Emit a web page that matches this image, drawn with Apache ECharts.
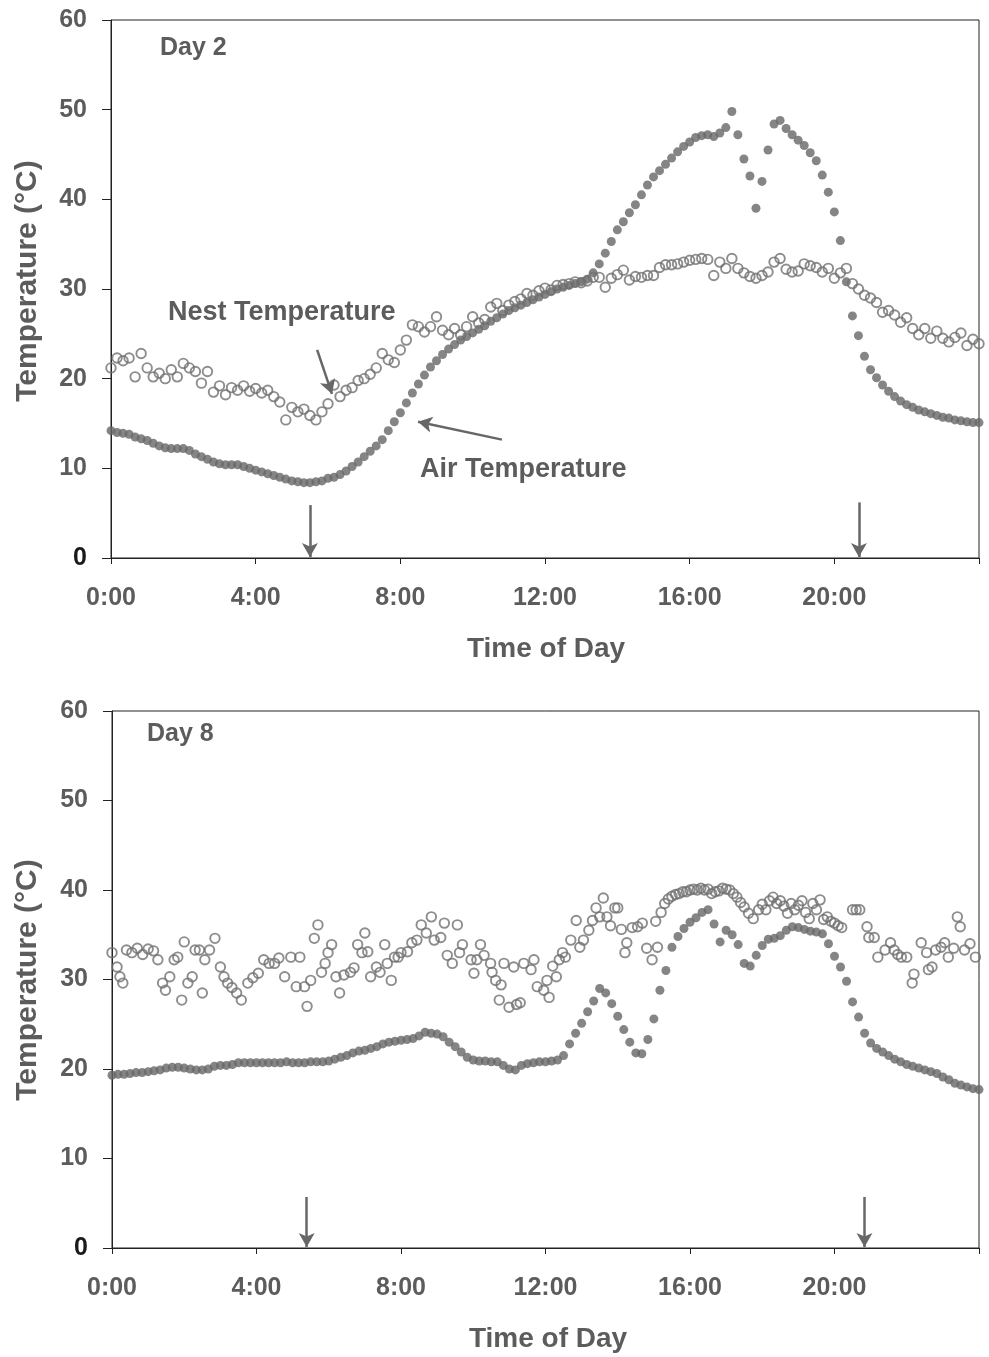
<!DOCTYPE html>
<html>
<head>
<meta charset="utf-8">
<title>Nest and air temperature, Day 2 and Day 8</title>
<script src="https://cdn.jsdelivr.net/npm/echarts@6/dist/echarts.min.js"></script>
<style>
  html, body { margin: 0; padding: 0; background: #fff; }
  #chart { width: 989px; height: 1357px; }
</style>
</head>
<body>
<div id="chart"></div>
<script>
// readings every 10 minutes from 0:00 to 24:00
const STEP_H = 10 / 60;

const airDay2 = [
  14.2, 14.0, 13.9, 13.8, 13.5, 13.3,
  13.1, 12.8, 12.5, 12.3, 12.2, 12.2,
  12.2, 12.0, 11.6, 11.3, 11.0, 10.7,
  10.5, 10.4, 10.4, 10.4, 10.2, 10.0,
  9.8, 9.6, 9.4, 9.2, 9.0, 8.8,
  8.6, 8.5, 8.4, 8.4, 8.5, 8.6,
  8.9, 9.0, 9.3, 9.7, 10.2, 10.7,
  11.3, 11.9, 12.5, 13.2, 14.2, 15.2,
  16.2, 17.3, 18.4, 19.4, 20.4, 21.3,
  22.0, 22.7, 23.3, 23.8, 24.3, 24.7,
  25.1, 25.5, 25.9, 26.4, 26.8, 27.2,
  27.6, 27.9, 28.2, 28.5, 28.8, 29.1,
  29.4, 29.7, 30.0, 30.2, 30.4, 30.6,
  30.8, 31.1, 31.8, 32.8, 34.0, 35.3,
  36.6, 37.5, 38.5, 39.4, 40.5, 41.6,
  42.5, 43.2, 43.9, 44.6, 45.3, 45.9,
  46.4, 46.9, 47.1, 47.2, 47.0, 47.4,
  48.0, 49.8, 47.2, 44.5, 42.6, 39.0,
  42.0, 45.5, 48.4, 48.8, 47.9, 47.2,
  46.6, 46.0, 45.2, 44.3, 42.7, 40.8,
  38.6, 35.4, 30.8, 27.0, 24.8, 22.5,
  21.0, 20.1, 19.3, 18.6, 18.0, 17.5,
  17.1, 16.8, 16.5, 16.3, 16.1, 15.9,
  15.7, 15.6, 15.4, 15.3, 15.2, 15.1,
  15.1
];

const nestDay2 = [
  21.2, 22.3, 22.0, 22.3, 20.2, 22.8,
  21.2, 20.2, 20.6, 20.0, 21.0, 20.2,
  21.7, 21.2, 20.8, 19.5, 20.8, 18.5,
  19.2, 18.2, 19.0, 18.7, 19.2, 18.6,
  18.9, 18.4, 18.7, 18.0, 17.4, 15.4,
  16.8, 16.3, 16.6, 15.9, 15.4, 16.3,
  17.2, 19.3, 18.0, 18.7, 19.0, 19.8,
  20.0, 20.5, 21.2, 22.8, 22.1, 21.8,
  23.2, 24.3, 26.0, 25.8, 25.2, 25.8,
  26.9, 25.4, 24.9, 25.6, 24.9, 25.8,
  26.9, 26.2, 26.6, 28.0, 28.4, 27.6,
  28.2, 28.6, 28.9, 29.5, 29.3, 29.8,
  30.1, 29.9, 30.4, 30.5, 30.6, 30.8,
  30.7, 30.9, 31.3, 31.3, 30.2, 31.2,
  31.6, 32.1, 31.0, 31.4, 31.3, 31.5,
  31.5, 32.4, 32.7, 32.7, 32.8, 33.0,
  33.2, 33.3, 33.4, 33.3, 31.5, 33.0,
  32.3, 33.4, 32.3, 31.8, 31.4, 31.2,
  31.5, 31.9, 33.0, 33.4, 32.2, 31.9,
  32.0, 32.8, 32.6, 32.4, 31.9, 32.3,
  31.2, 31.8, 32.3, 30.6, 30.0, 29.3,
  29.0, 28.5, 27.4, 27.6, 27.1, 26.3,
  26.8, 25.6, 24.9, 25.6, 24.5, 25.3,
  24.5, 24.1, 24.6, 25.1, 23.7, 24.4,
  23.9
];

const airDay8 = [
  19.3, 19.4, 19.4, 19.5, 19.6, 19.6,
  19.7, 19.8, 19.9, 20.1, 20.2, 20.2,
  20.1, 20.0, 19.9, 19.9, 20.0, 20.3,
  20.4, 20.4, 20.5, 20.7, 20.7, 20.7,
  20.7, 20.7, 20.7, 20.7, 20.7, 20.8,
  20.7, 20.7, 20.7, 20.8, 20.8, 20.8,
  20.9, 21.1, 21.3, 21.5, 21.8, 22.0,
  22.1, 22.3, 22.5, 22.8, 23.0, 23.1,
  23.2, 23.3, 23.4, 23.7, 24.1, 24.0,
  23.9, 23.6, 23.0, 22.5, 21.9, 21.3,
  21.0, 20.9, 20.9, 20.8, 20.8, 20.4,
  20.0, 19.9, 20.4, 20.6, 20.7, 20.8,
  20.8, 20.9, 21.0, 21.5, 22.8, 24.0,
  25.1, 26.4, 27.6, 29.0, 28.5, 27.3,
  25.9, 24.4, 23.0, 21.8, 21.7, 23.3,
  25.6, 28.8, 31.0, 33.6, 34.8, 35.7,
  36.4, 36.9, 37.5, 37.8, 36.2, 34.2,
  35.5, 35.0, 33.9, 31.8, 31.5, 32.7,
  33.8, 34.5, 34.6, 34.9, 35.5, 35.9,
  35.8, 35.6, 35.4, 35.3, 35.1, 34.0,
  32.6, 31.4, 29.8, 27.5, 25.8, 24.0,
  22.9, 22.3, 21.9, 21.5, 21.1, 20.8,
  20.5, 20.3, 20.1, 19.9, 19.7, 19.5,
  19.1, 18.8, 18.4, 18.2, 18.0, 17.8,
  17.7
];

// day 8 nest readings are irregular, so they keep their own times (hours)
const nestTimeDay8 = [
  0.00, 0.14, 0.22, 0.30, 0.40, 0.55, 0.70, 0.85, 1.00, 1.15, 1.27, 1.40, 1.48, 1.60, 1.72, 1.82,
  1.93, 2.00, 2.10, 2.22, 2.30, 2.42, 2.50, 2.57, 2.70, 2.85, 3.00, 3.10, 3.20, 3.32, 3.45, 3.58,
  3.76, 3.90, 4.05, 4.20, 4.35, 4.50, 4.62, 4.78, 4.95, 5.10, 5.20, 5.33, 5.40, 5.50, 5.60, 5.70,
  5.80, 5.90, 5.98, 6.08, 6.20, 6.30, 6.42, 6.60, 6.70, 6.80, 6.92, 7.00, 7.08, 7.16, 7.32, 7.42,
  7.55, 7.62, 7.73, 7.82, 7.92, 8.00, 8.18, 8.30, 8.44, 8.56, 8.70, 8.84, 8.92, 9.10, 9.20, 9.28,
  9.42, 9.56, 9.62, 9.70, 9.94, 10.02, 10.10, 10.20, 10.30, 10.48, 10.52, 10.62, 10.72, 10.77, 10.85, 10.99,
  11.12, 11.20, 11.30, 11.40, 11.60, 11.68, 11.77, 11.95, 12.04, 12.10, 12.20, 12.30, 12.38, 12.47, 12.55, 12.70,
  12.85, 12.95, 13.05, 13.20, 13.30, 13.40, 13.50, 13.60, 13.70, 13.80, 13.92, 14.00, 14.10, 14.20, 14.25, 14.40,
  14.55, 14.68, 14.80, 14.95, 15.05, 15.10, 15.20, 15.30, 15.40, 15.50, 15.60, 15.70, 15.80, 15.90, 16.00, 16.10,
  16.20, 16.30, 16.40, 16.50, 16.60, 16.70, 16.80, 16.90, 17.00, 17.10, 17.20, 17.30, 17.40, 17.50, 17.62, 17.75,
  17.90, 18.00, 18.10, 18.20, 18.30, 18.40, 18.50, 18.60, 18.70, 18.80, 18.90, 19.00, 19.10, 19.20, 19.30, 19.40,
  19.50, 19.60, 19.70, 19.80, 19.90, 20.00, 20.10, 20.20, 20.50, 20.60, 20.70, 20.90, 20.95, 21.10, 21.20, 21.40,
  21.55, 21.65, 21.75, 21.85, 22.00, 22.15, 22.20, 22.40, 22.55, 22.60, 22.70, 22.80, 22.95, 23.05, 23.15, 23.30,
  23.40, 23.48, 23.60, 23.75, 23.90
];
const nestTempDay8 = [
  33.0, 31.4, 30.3, 29.6, 33.3, 33.0, 33.5, 32.8, 33.4, 33.2, 32.2, 29.6, 28.8, 30.3, 32.2, 32.5,
  27.7, 34.2, 29.6, 30.3, 33.3, 33.3, 28.5, 32.2, 33.3, 34.6, 31.4, 30.3, 29.6, 29.1, 28.5, 27.7,
  29.6, 30.2, 30.7, 32.2, 31.8, 31.8, 32.4, 30.3, 32.5, 29.2, 32.5, 29.2, 27.0, 29.9, 34.6, 36.1,
  30.8, 31.8, 33.0, 33.9, 30.3, 28.5, 30.5, 30.8, 31.3, 33.9, 33.0, 35.2, 33.1, 30.3, 31.4, 30.8,
  33.9, 31.8, 29.9, 32.5, 32.5, 33.0, 33.1, 34.1, 34.4, 36.1, 35.2, 37.0, 34.4, 34.7, 36.3, 32.7,
  31.8, 36.1, 33.0, 33.9, 32.2, 30.7, 32.2, 33.9, 32.7, 31.8, 30.8, 29.9, 27.7, 29.4, 31.8, 26.9,
  31.4, 27.2, 27.4, 31.8, 31.1, 32.2, 29.2, 28.8, 29.9, 28.0, 31.5, 30.3, 32.2, 33.0, 32.5, 34.4,
  36.6, 33.6, 34.4, 35.5, 36.6, 38.0, 37.0, 39.1, 37.0, 36.0, 38.0, 38.0, 35.6, 33.0, 34.1, 35.8,
  35.9, 36.3, 33.5, 32.2, 36.5, 33.6, 37.5, 38.5, 39.0, 39.3, 39.5, 39.6, 39.8, 39.8, 40.0, 40.1,
  40.0, 40.2, 40.0, 40.1, 39.6, 39.8, 39.9, 40.2, 40.1, 40.0, 39.6, 39.2, 38.6, 38.1, 37.4, 36.8,
  37.8, 38.4, 37.8, 38.8, 39.2, 38.5, 38.8, 38.2, 37.4, 38.5, 37.8, 38.3, 38.8, 37.5, 36.8, 38.5,
  37.8, 38.9, 36.7, 37.0, 36.5, 36.3, 36.0, 35.8, 37.8, 37.8, 37.8, 35.9, 34.7, 34.7, 32.5, 33.3,
  34.1, 33.3, 32.8, 32.5, 32.5, 29.6, 30.6, 34.1, 33.0, 31.1, 31.4, 33.3, 33.6, 34.1, 32.5, 33.5,
  37.0, 35.9, 33.3, 34.0, 32.5
];

const hourTicks = [0, 4, 8, 12, 16, 20];

// annotation arrows: [x1, y1, x2, y2] in hours / degrees, head at the second point
const arrowsDay2 = [
  [5.70, 23.2, 6.11, 18.3],
  [10.81, 13.2, 8.49, 15.2],
  [5.50, 5.9, 5.50, 0.1],
  [20.68, 6.2, 20.68, 0.1]
];
const arrowsDay8 = [
  [5.39, 5.7, 5.39, 0.1],
  [20.83, 5.7, 20.83, 0.1]
];

const FONT = '"Liberation Sans", Arial, sans-serif';
const TEXT = '#5c5c5c';
const MARK = '#676767';

const onGrid = (vals) => vals.map((v, i) => [i * STEP_H, v]);

const makeX = (gridIndex) => ({
  type: 'value',
  gridIndex: gridIndex,
  min: 0,
  max: 24,
  interval: 4,
  axisLine: { lineStyle: { color: '#222', width: 1 } },
  axisTick: { length: 6, lineStyle: { color: '#222' } },
  splitLine: { show: false },
  axisLabel: {
    margin: 28,
    fontSize: 25,
    fontWeight: 'bold',
    fontFamily: FONT,
    color: TEXT,
    formatter: (v) => (hourTicks.indexOf(v) >= 0 ? v + ':00' : '')
  }
});

const makeY = (gridIndex) => ({
  type: 'value',
  gridIndex: gridIndex,
  min: 0,
  max: 60,
  interval: 10,
  axisLine: { show: true, lineStyle: { color: '#222', width: 1 } },
  axisTick: { show: true, length: 9, lineStyle: { color: '#222' } },
  splitLine: { show: false },
  axisLabel: {
    margin: 24,
    fontSize: 25,
    fontWeight: 'bold',
    fontFamily: FONT,
    color: (v) => (Number(v) === 0 ? '#1a1a1a' : TEXT)
  }
});

const arrowLines = (list) => ({
  silent: true,
  animation: false,
  symbol: ['none', 'arrow'],
  symbolSize: [12, 14],
  lineStyle: { color: MARK, width: 2.5, type: 'solid' },
  label: { show: false },
  emphasis: { disabled: true },
  data: list.map((a) => [{ coord: [a[0], a[1]] }, { coord: [a[2], a[3]] }])
});

const airStyle = { color: MARK };
const nestStyle = { color: 'rgba(255,255,255,0)', borderColor: '#707070', borderWidth: 1.9 };

const label = (str, x, y, size, opts) => {
  const o = opts || {};
  return {
    type: 'text',
    x: x,
    y: y,
    rotation: o.rotation || 0,
    silent: true,
    style: {
      text: str,
      fontSize: size,
      fontWeight: 'bold',
      fontFamily: FONT,
      fill: TEXT,
      align: o.align || 'left',
      verticalAlign: 'middle'
    }
  };
};

const chart = echarts.init(document.getElementById('chart'));

chart.setOption({
  animation: false,
  backgroundColor: '#fff',
  grid: [
    { left: 111, top: 20, width: 868, height: 538, show: true, borderColor: '#222', borderWidth: 1 },
    { left: 112, top: 711, width: 867, height: 537, show: true, borderColor: '#222', borderWidth: 1 }
  ],
  xAxis: [makeX(0), makeX(1)],
  yAxis: [makeY(0), makeY(1)],
  series: [
    {
      name: 'Air Temperature (Day 2)',
      type: 'scatter',
      xAxisIndex: 0,
      yAxisIndex: 0,
      symbol: 'circle',
      symbolSize: 9,
      itemStyle: airStyle,
      data: onGrid(airDay2),
      markLine: arrowLines(arrowsDay2)
    },
    {
      name: 'Nest Temperature (Day 2)',
      type: 'scatter',
      xAxisIndex: 0,
      yAxisIndex: 0,
      symbol: 'circle',
      symbolSize: 9.5,
      itemStyle: nestStyle,
      data: onGrid(nestDay2)
    },
    {
      name: 'Air Temperature (Day 8)',
      type: 'scatter',
      xAxisIndex: 1,
      yAxisIndex: 1,
      symbol: 'circle',
      symbolSize: 9,
      itemStyle: airStyle,
      data: onGrid(airDay8),
      markLine: arrowLines(arrowsDay8)
    },
    {
      name: 'Nest Temperature (Day 8)',
      type: 'scatter',
      xAxisIndex: 1,
      yAxisIndex: 1,
      symbol: 'circle',
      symbolSize: 9.5,
      itemStyle: nestStyle,
      data: nestTimeDay8.map((t, i) => [t, nestTempDay8[i]])
    }
  ],
  graphic: [
    label('Day 2', 160, 48, 25),
    label('Nest Temperature', 168, 313, 27),
    label('Air Temperature', 420, 470, 27),
    label('Temperature (°C)', 28, 281, 30, { rotation: Math.PI / 2, align: 'center' }),
    label('Time of Day', 546, 649, 28, { align: 'center' }),
    label('Day 8', 147, 734, 25),
    label('Temperature (°C)', 28, 980, 30, { rotation: Math.PI / 2, align: 'center' }),
    label('Time of Day', 548, 1339, 28, { align: 'center' })
  ]
});
</script>
</body>
</html>
